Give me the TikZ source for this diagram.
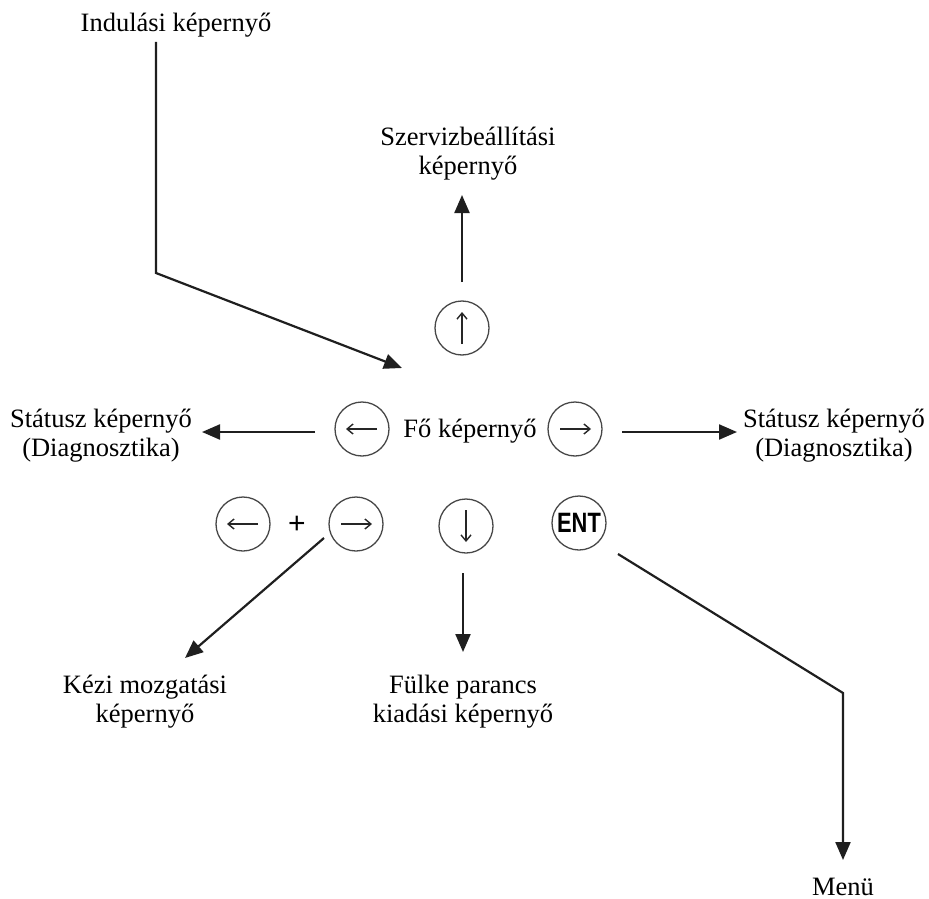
\documentclass[tikz,border=0pt]{standalone}
\usepackage{fontspec}
\setmainfont{Liberation Serif}
\newfontfamily\entfont{Liberation Sans}
\usetikzlibrary{arrows.meta}
\begin{document}
\begin{tikzpicture}[x=1pt,y=-1pt,
  lbl/.style={anchor=base,inner sep=0pt,font=\fontsize{26.5}{29.5}\selectfont},
  btn/.style={circle,draw=black!72,line width=1.3pt,minimum size=54pt,inner sep=0pt},
  conn/.style={line width=2.2pt,draw=black!88,line join=miter,-{Triangle[length=18pt,width=15pt]}},
  barrow/.style={line width=1.4pt,draw=black!85,-{Straight Barb[length=6pt,width=10pt]}}]
\useasboundingbox (0,0) rectangle (929,899);

% labels
\node[lbl] (ind) at (176,32) {Indulási képernyő};
\node[lbl] (srv) at (468,145) {\begin{tabular}[t]{@{}c@{}}Szervizbeállítási\\képernyő\end{tabular}};
\node[lbl] (fo) at (470,437) {Fő képernyő};
\node[lbl] (stl) at (101,427) {\begin{tabular}[t]{@{}c@{}}Státusz képernyő\\(Diagnosztika)\end{tabular}};
\node[lbl] (str) at (834,427) {\begin{tabular}[t]{@{}c@{}}Státusz képernyő\\(Diagnosztika)\end{tabular}};
\node[lbl] (kez) at (145,693) {\begin{tabular}[t]{@{}c@{}}Kézi mozgatási\\képernyő\end{tabular}};
\node[lbl] (ful) at (463,693) {\begin{tabular}[t]{@{}c@{}}Fülke parancs\\kiadási képernyő\end{tabular}};
\node[lbl] (menu) at (843,895) {Menü};

% buttons
\node[btn] (bup) at (462,328) {};
\node[btn] (bl) at (362,429) {};
\node[btn] (br) at (575,429) {};
\node[btn] (bl2) at (243,524) {};
\node[inner sep=0pt,font=\entfont\fontsize{30}{32}\selectfont] (plus) at (297,525) {+};
\node[btn] (br2) at (356,524) {};
\node[btn] (bdn) at (466,526) {};
\node[btn,font=\entfont\bfseries\fontsize{28}{29}\selectfont] (bent) at (579,523) {\scalebox{0.78}[1]{ENT}};

% arrows inside buttons
\draw[barrow] ([yshift=-16pt]bup.center) -- ([yshift=16pt]bup.center);
\draw[barrow] ([xshift=15pt]bl.center) -- ([xshift=-16pt]bl.center);
\draw[barrow] ([xshift=-15pt]br.center) -- ([xshift=16pt]br.center);
\draw[barrow] ([xshift=15pt]bl2.center) -- ([xshift=-16pt]bl2.center);
\draw[barrow] ([xshift=-15pt]br2.center) -- ([xshift=16pt]br2.center);
\draw[barrow] ([yshift=16pt]bdn.center) -- ([yshift=-16pt]bdn.center);

% connector points
\coordinate (i1) at (156,42);
\coordinate (i2) at (156,273);
\coordinate (i3) at (402,368);
\coordinate (u1) at (462,282);
\coordinate (u2) at (462,195);
\coordinate (l1) at (315,432);
\coordinate (l2) at (202,432);
\coordinate (r1) at (622,432);
\coordinate (r2) at (737,432);
\coordinate (k1) at (324,538);
\coordinate (k2) at (185,658);
\coordinate (d1) at (463,573);
\coordinate (d2) at (463,652);
\coordinate (e1) at (618,554);
\coordinate (e2) at (843,693);
\coordinate (e3) at (843,860);

% connectors
\draw[conn] (i1) -- (i2) -- (i3);
\draw[conn] (u1) -- (u2);
\draw[conn] (l1) -- (l2);
\draw[conn] (r1) -- (r2);
\draw[conn] (k1) -- (k2);
\draw[conn] (d1) -- (d2);
\draw[conn] (e1) -- (e2) -- (e3);
\end{tikzpicture}
\end{document}
